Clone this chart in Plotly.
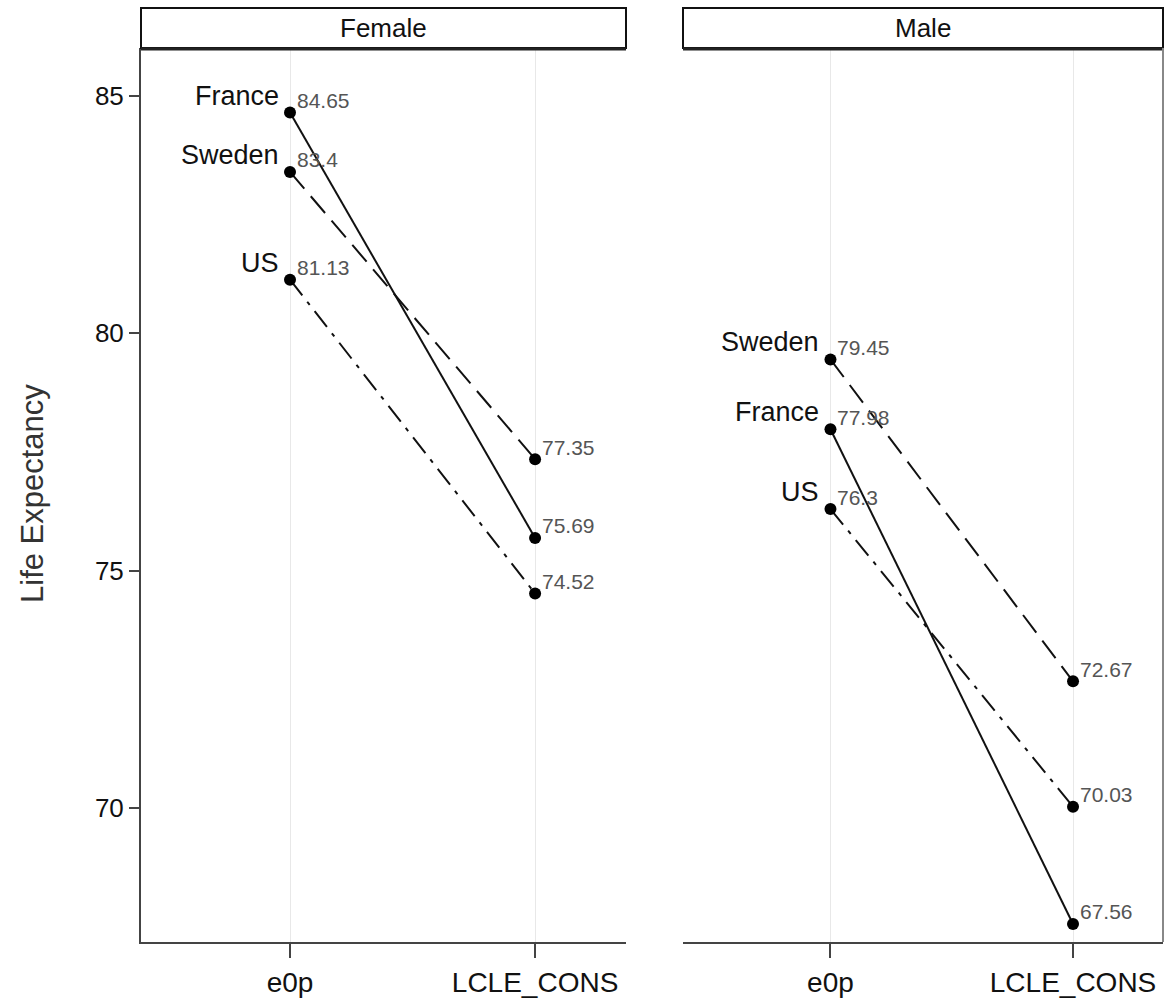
import plotly.graph_objects as go

# ---- data ----
measures = ["e0p", "LCLE_CONS"]
countries = ["France", "Sweden", "US"]
female_e0p = [84.65, 83.4, 81.13]
female_lcle = [75.69, 77.35, 74.52]
male_e0p = [77.98, 79.45, 76.3]
male_lcle = [67.56, 72.67, 70.03]
panels = ["Female", "Male"]
y_ticks = [70, 75, 80, 85]

W, H = 1165, 1007
FONT = "Liberation Sans"
dashes = {"France": "solid", "Sweden": "22px,10px", "US": "20px,8px,4px,8px"}

fig = go.Figure()
annotations = []

panel_data = [(female_e0p, female_lcle, "x", "y"), (male_e0p, male_lcle, "x2", "y2")]
for (e0, lc, xr, yr) in panel_data:
    for i, c in enumerate(countries):
        fig.add_trace(go.Scatter(
            x=measures, y=[e0[i], lc[i]], xaxis=xr, yaxis=yr,
            mode="lines+markers",
            line=dict(color="#111111", width=2, dash=dashes[c]),
            marker=dict(color="#000000", size=12),
            showlegend=False, hoverinfo="skip"))
        # country label left of e0p point
        annotations.append(dict(
            x=measures[0], y=e0[i], xref=xr, yref=yr, text=c, showarrow=False,
            xanchor="right", yanchor="middle", xshift=-9, yshift=17,
            font=dict(family=FONT, size=27, color="#111111")))
        # value labels
        for m, v in zip(measures, [e0[i], lc[i]]):
            annotations.append(dict(
                x=m, y=v, xref=xr, yref=yr, text=str(v), showarrow=False,
                xanchor="left", yanchor="middle", xshift=5, yshift=12,
                font=dict(family=FONT, size=21, color="#555555")))

# panel geometry in pixels
left_dom = (141, 626)
right_dom = (683, 1163)
top_px, bot_px = 48, 942
ydom = [1 - bot_px / H, 1 - top_px / H]
yrange = [67.18, 86.01]
xrange_ = [-0.608, 1.371]

axis_color = "#444444"
common_x = dict(range=xrange_, type="category", categoryorder="array", categoryarray=measures,
                showgrid=True, gridcolor="#e8e8e8", gridwidth=1,
                showline=True, linecolor=axis_color, linewidth=2,
                ticks="outside", ticklen=14, tickwidth=2, tickcolor=axis_color,
                tickfont=dict(family=FONT, size=28, color="#111111"), zeroline=False,
                fixedrange=True)

fig.update_layout(
    width=W, height=H, margin=dict(l=0, r=0, t=0, b=0),
    plot_bgcolor="white", paper_bgcolor="white",
    xaxis=dict(domain=[left_dom[0] / W, left_dom[1] / W], anchor="y", **common_x),
    xaxis2=dict(domain=[right_dom[0] / W, right_dom[1] / W], anchor="y2", **common_x),
    yaxis=dict(domain=ydom, range=yrange, anchor="x", tickvals=y_ticks,
               showgrid=False, zeroline=False, showline=True, linecolor=axis_color, linewidth=2,
               ticks="outside", ticklen=10, tickwidth=2, tickcolor=axis_color,
               tickfont=dict(family=FONT, size=26, color="#111111"), fixedrange=True),
    yaxis2=dict(domain=ydom, range=yrange, anchor="x2", matches="y",
                showgrid=False, zeroline=False, showline=False, showticklabels=False,
                ticks="", fixedrange=True),
)

shapes = []
strip_top, strip_bot = 8, 48
for (l, r), name in zip([left_dom, right_dom], panels):
    shapes.append(dict(type="rect", xref="paper", yref="paper",
                       x0=l / W, x1=r / W, y0=1 - strip_bot / H, y1=1 - strip_top / H,
                       line=dict(color="#111111", width=2), fillcolor="white", layer="above"))
    shapes.append(dict(type="line", xref="paper", yref="paper",
                       x0=l / W, x1=r / W, y0=1 - (strip_bot + 1) / H, y1=1 - (strip_bot + 1) / H,
                       line=dict(color="#222222", width=3)))
    annotations.append(dict(x=(l + r) / 2 / W, y=1 - (strip_top + strip_bot) / 2 / H,
                            xref="paper", yref="paper", text=name, showarrow=False,
                            xanchor="center", yanchor="middle",
                            font=dict(family=FONT, size=26, color="#111111")))
# right border of the right panel
shapes.append(dict(type="line", xref="paper", yref="paper",
                   x0=right_dom[1] / W, x1=right_dom[1] / W, y0=ydom[0], y1=ydom[1],
                   line=dict(color="#888888", width=2)))

annotations.append(dict(x=32 / W, y=1 - 494 / H, xref="paper", yref="paper",
                        text="Life Expectancy", textangle=-90, showarrow=False,
                        xanchor="center", yanchor="middle",
                        font=dict(family=FONT, size=31, color="#333333")))

fig.update_layout(shapes=shapes, annotations=annotations)
fig.write_html("out.html")
